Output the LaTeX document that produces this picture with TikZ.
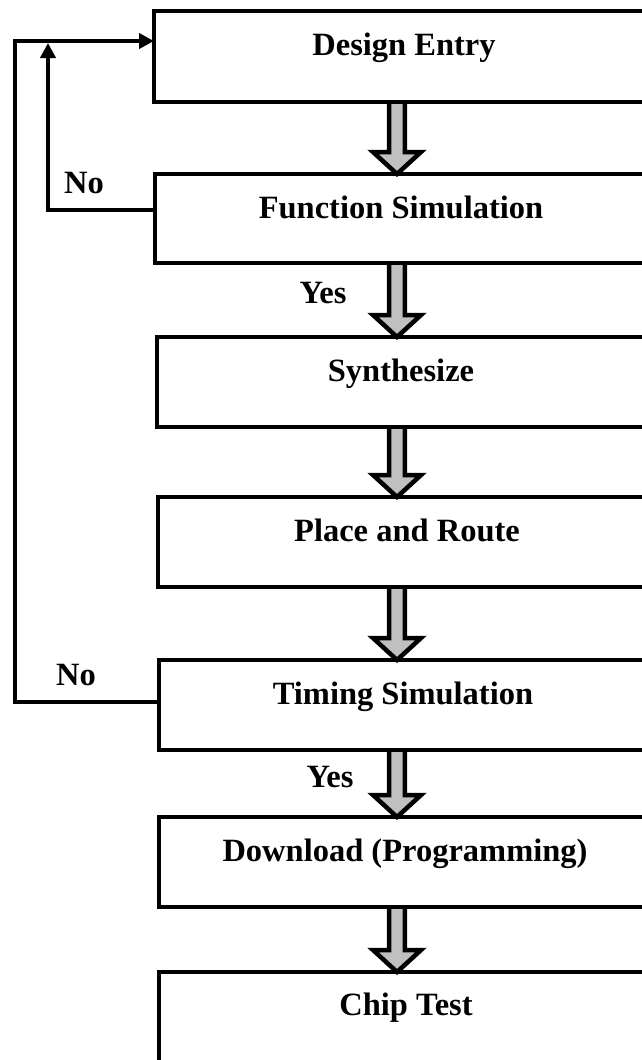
\documentclass[tikz,border=0pt]{standalone}
\usepackage{fontspec}
\setmainfont{Liberation Serif}
\usetikzlibrary{arrows.meta,calc}
\definecolor{arrowgray}{RGB}{192,192,192}
\newcommand\flowarrow[2]{%
  \draw[barrow] let \p1=(#1.south -| ax), \p2=(#2.north -| ax) in
    (\x1-7.8pt,\y1) -- (\x1-7.8pt,\y2+22pt) -- (\x1-24pt,\y2+22pt) -- (\x1,\y2)
    -- (\x1+24pt,\y2+22pt) -- (\x1+7.8pt,\y2+22pt) -- (\x1+7.8pt,\y1);}
\begin{document}
\begin{tikzpicture}[x=1pt,y=-1pt,
  box/.style={draw,line width=4pt,rectangle,outer sep=0pt,inner sep=0pt,
    anchor=north west,minimum width=520pt},
  lbl/.style={font=\fontsize{32.5}{38}\selectfont\bfseries,anchor=base,inner sep=0pt},
  fb/.style={line width=4pt,line join=miter},
  tipend/.style={-{Triangle[length=15pt,width=15pt]}},
  barrow/.style={draw=black,fill=arrowgray,line width=4.5pt,line join=miter}]
\useasboundingbox (0,0) rectangle (642,1060);
\clip (0,0) rectangle (642,1060);
\coordinate (ax) at (397,0);
% boxes (paths only)
\path (154,11) node[box,draw=none,minimum height=91pt] (b1) {};
\path (155,174) node[box,draw=none,minimum height=89pt] (b2) {};
\path (157,337) node[box,draw=none,minimum height=90pt] (b3) {};
\path (158,497) node[box,draw=none,minimum height=90pt] (b4) {};
\path (159,660) node[box,draw=none,minimum height=90pt] (b5) {};
\path (159,817) node[box,draw=none,minimum height=90pt] (b6) {};
\path (159,972) node[box,draw=none,minimum height=130pt] (b7) {};
% block arrows
\flowarrow{b1}{b2}
\flowarrow{b2}{b3}
\flowarrow{b3}{b4}
\flowarrow{b4}{b5}
\flowarrow{b5}{b6}
\flowarrow{b6}{b7}
% box outlines on top
\foreach \b in {b1,b2,b3,b4,b5,b6,b7}
  \draw[line width=4pt] (\b.north west) rectangle (\b.south east);
% labels
\node[lbl] (t1) at (404,55) {Design Entry};
\node[lbl] (t2) at (401,218) {Function Simulation};
\node[lbl] (t3) at (401,381) {Synthesize};
\node[lbl] (t4) at (407,541) {Place and Route};
\node[lbl] (t5) at (403,704) {Timing Simulation};
\node[lbl] (t6) at (405,861) {Download (Programming)};
\node[lbl] (t7) at (406,1015) {Chip Test};
\node[lbl] (no1) at (84,193) {No};
\node[lbl] (no2) at (76,685) {No};
\node[lbl] (yes1) at (323,303) {Yes};
\node[lbl] (yes2) at (330,787) {Yes};
% feedback lines
\coordinate (o5) at ($(b5.west)+(0,-3)$);
\coordinate (o1) at ($(b1.west)+(0,-15.5)$);
\coordinate (i2) at ($(b2.west)+(0,-8.5)$);
\coordinate (lx) at (15,0);
\coordinate (ix) at (48,0);
\draw[fb,tipend] (o5) -- (o5 -| lx) -- (o1 -| lx) -- (o1);
\draw[fb,tipend] (i2) -- (i2 -| ix) -- ($(o1 -| ix)+(0,2)$);
\end{tikzpicture}
\end{document}
